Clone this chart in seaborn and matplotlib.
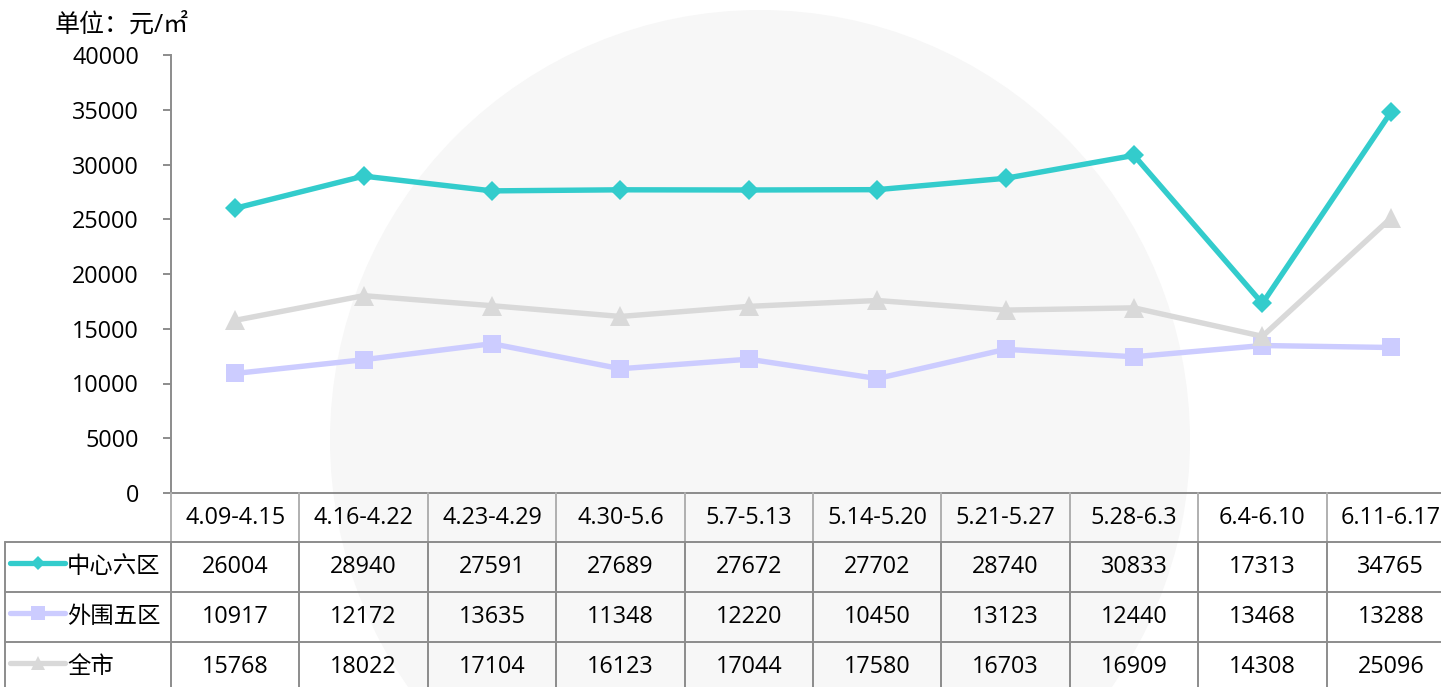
import matplotlib
matplotlib.use("Agg")
import matplotlib.pyplot as plt
from matplotlib.patches import Circle
import pandas as pd
import seaborn as sns

# --- data ---
periods = ["4.09-4.15", "4.16-4.22", "4.23-4.29", "4.30-5.6", "5.7-5.13",
           "5.14-5.20", "5.21-5.27", "5.28-6.3", "6.4-6.10", "6.11-6.17"]
center6 = [26004, 28940, 27591, 27689, 27672, 27702, 28740, 30833, 17313, 34765]
outer5 = [10917, 12172, 13635, 11348, 12220, 10450, 13123, 12440, 13468, 13288]
city = [15768, 18022, 17104, 16123, 17044, 17580, 16703, 16909, 14308, 25096]
series_names = ["中心六区", "外围五区", "全市"]
y_ticks = [0, 5000, 10000, 15000, 20000, 25000, 30000, 35000, 40000]

colors = {"中心六区": "#33CCCC", "外围五区": "#CCCCFF", "全市": "#D9D9D9"}
markers = {"中心六区": "D", "外围五区": "s", "全市": "^"}
msizes = {"中心六区": 10, "外围五区": 12.5, "全市": 14}

df = pd.DataFrame({"period": periods * 3,
                   "value": center6 + outer5 + city,
                   "series": [s for s in series_names for _ in periods]})

sns.set_theme(style="white")
plt.rcParams["font.family"] = ["Open Sans", "Noto Sans CJK SC", "DejaVu Sans"]
plt.rcParams["text.color"] = "black"
plt.rcParams["ytick.color"] = "black"
FS = 16.8
GRID = "#8C8C8C"

W, H = 1441, 687
fig = plt.figure(figsize=(W / 100, H / 100), dpi=100)

# faint watermark circle
bg = fig.add_axes([0, 0, 1, 1], zorder=0)
bg.set_xlim(0, W)
bg.set_ylim(H, 0)
bg.axis("off")
bg.add_patch(Circle((760, 440), 430, color="#F7F7F7", lw=0))

col_w = 128.4
left_px, top_px, bot_px = 171, 55, 493
ax = fig.add_axes([left_px / W, (H - bot_px) / H, 10 * col_w / W, (bot_px - top_px) / H], zorder=2)
ax.patch.set_alpha(0)

for name in series_names:
    sub = df[df["series"] == name]
    sns.lineplot(data=sub, x="period", y="value", ax=ax, sort=False,
                 color=colors[name], marker=markers[name], markersize=msizes[name],
                 markeredgecolor=colors[name], markeredgewidth=0, linewidth=3.9,
                 legend=False)

ax.set_xlim(-0.5, 9.5)
ax.set_ylim(0, 40000)
ax.set_yticks(y_ticks)
ax.set_yticklabels([str(v) for v in y_ticks], fontsize=FS)
ax.set_xticks([])
ax.set_xlabel("")
ax.set_ylabel("")
for s in ["top", "right"]:
    ax.spines[s].set_visible(False)
ax.spines["left"].set_color(GRID)
ax.spines["left"].set_linewidth(1.4)
ax.spines["bottom"].set_color(GRID)
ax.spines["bottom"].set_linewidth(1.4)
ax.tick_params(axis="y", left=True, length=6, width=1.4, color=GRID,
               labelcolor="black", pad=17)

fig.text(55 / W, 1 - 25 / H, "单位：元/㎡", fontsize=18, va="center", ha="left")

# --- data table below ---
tax = fig.add_axes([left_px / W, 0, 10 * col_w / W, (H - bot_px) / H], zorder=3)
tax.set_xlim(-0.5, 9.5)
tax.set_ylim(H, bot_px)
tax.axis("off")
lab_left = -0.5 - (left_px - 5) / col_w
kw = dict(color=GRID, lw=1.4, clip_on=False)

for i, p in enumerate(periods):
    tax.text(i, 518, p, ha="center", va="center", fontsize=FS)
    tax.plot([i - 0.5, i - 0.5], [bot_px, 542], color="#B0B0B0", lw=1.4, clip_on=False)
    tax.plot([i - 0.5, i - 0.5], [542, H], **kw)
for yl in [542, 592, 642]:
    tax.plot([lab_left, 9.5], [yl, yl], **kw)
tax.plot([lab_left, lab_left], [542, H], **kw)

rows = [center6, outer5, city]
centers = [567, 617, 667]
for name, vals, yc in zip(series_names, rows, centers):
    for i, v in enumerate(vals):
        tax.text(i, yc, str(v), ha="center", va="center", fontsize=FS)
    x0 = -0.5 - (left_px - 10) / col_w
    x1 = -0.5 - (left_px - 65) / col_w
    tax.plot([x0, x1], [yc - 4, yc - 4], color=colors[name], lw=3.8, clip_on=False)
    tax.plot([(x0 + x1) / 2], [yc - 4], marker=markers[name], color=colors[name],
             markersize=msizes[name] * 0.75, markeredgewidth=0, clip_on=False)
    tax.text(-0.5 - (left_px - 67) / col_w, yc, name, ha="left", va="center", fontsize=FS)

fig.savefig("out.png", dpi=100)
